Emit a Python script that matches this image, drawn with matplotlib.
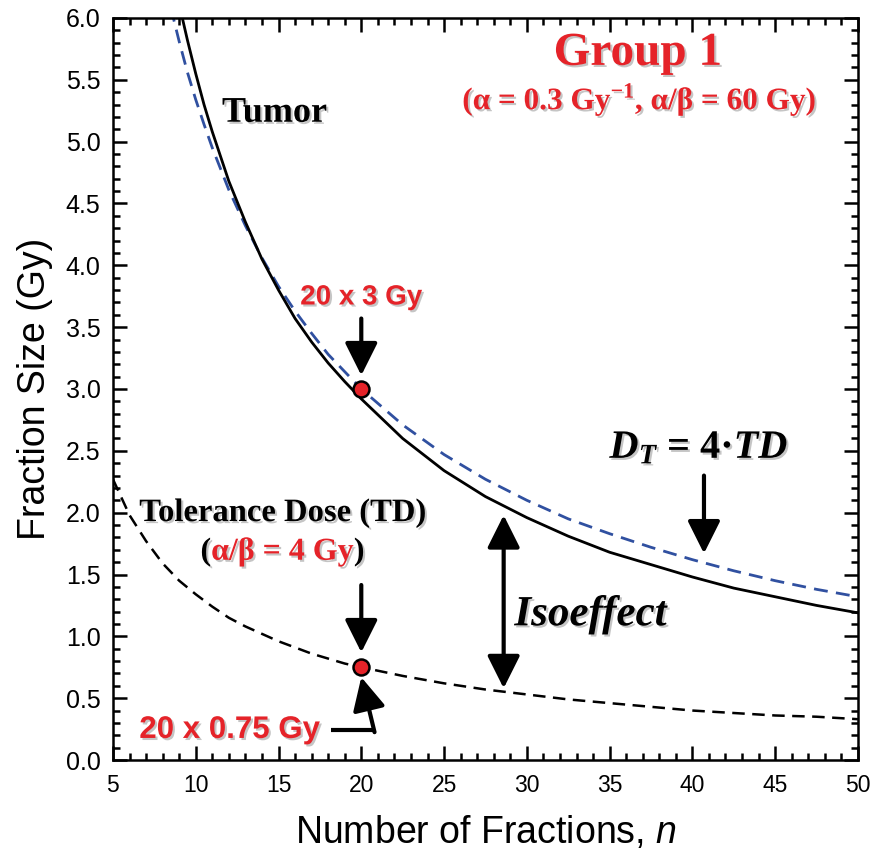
import matplotlib.pyplot as plt
import matplotlib.patheffects as pe
from matplotlib.ticker import MultipleLocator
from matplotlib.offsetbox import TextArea, HPacker, AnnotationBbox

# isoeffect curves: fraction size (Gy) vs number of fractions
n_tumor = [9.0, 9.5, 10, 10.5, 11, 12, 13, 14, 15, 16, 17, 18, 19, 20,
           22.5, 25, 27.5, 30, 32.5, 35, 37.5, 40, 42.5, 45, 47.5, 50]
d_tumor = [6.11, 5.82, 5.55, 5.30, 5.08, 4.68, 4.35, 4.05, 3.80, 3.57, 3.38, 3.21, 3.06, 2.92,
           2.60, 2.34, 2.13, 1.96, 1.81, 1.68, 1.58, 1.48, 1.39, 1.32, 1.25, 1.19]

n_dt = [8.5, 9, 9.5, 10, 10.5, 11, 12, 13, 14, 15, 16, 17, 18, 19, 20,
        22.5, 25, 27.5, 30, 32.5, 35, 37.5, 40, 42.5, 45, 47.5, 50]
d_dt = [6.08, 5.81, 5.56, 5.34, 5.14, 4.95, 4.61, 4.32, 4.06, 3.83, 3.63, 3.45, 3.28, 3.14, 3.00,
        2.71, 2.47, 2.27, 2.10, 1.95, 1.83, 1.72, 1.62, 1.53, 1.45, 1.38, 1.32]

n_td = [5, 6, 7, 8, 9, 10, 11, 12, 13, 14, 15, 16, 17, 18, 19, 20,
        22.5, 25, 27.5, 30, 32.5, 35, 37.5, 40, 42.5, 45, 47.5, 50]
d_td = [2.27, 1.98, 1.77, 1.59, 1.45, 1.34, 1.24, 1.15, 1.08, 1.02, 0.96, 0.91, 0.86, 0.82, 0.78, 0.75,
        0.68, 0.62, 0.57, 0.53, 0.49, 0.46, 0.43, 0.40, 0.38, 0.36, 0.35, 0.33]

# highlighted schedules: 20 x 3 Gy and 20 x 0.75 Gy
dot_n = [20, 20]
dot_d = [3.0, 0.75]

RED = '#e52329'
BLUE = '#3050a0'

plt.rcParams['font.family'] = ['Liberation Sans', 'DejaVu Sans']
plt.rcParams['mathtext.fontset'] = 'custom'
plt.rcParams['mathtext.rm'] = 'Liberation Serif:bold'
plt.rcParams['mathtext.it'] = 'Liberation Sans:italic'
plt.rcParams['mathtext.bf'] = 'Liberation Serif:italic:bold'

shadow = [pe.withSimplePatchShadow(offset=(1.5, -1.5), shadow_rgbFace='0.5', alpha=0.45)]
serif = ['Liberation Serif', 'DejaVu Serif']

fig = plt.figure(figsize=(8.71, 8.61), dpi=100)
ax = fig.add_axes([0.1297, 0.1173, 0.8553, 0.8618])

ax.plot(n_dt, d_dt, color=BLUE, lw=2.0, ls=(0, (5, 3)))
ax.plot(n_tumor, d_tumor, color='black', lw=2.0)
ax.plot(n_td, d_td, color='black', lw=1.8, ls=(0, (5, 3)))
ax.plot(dot_n, dot_d, 'o', ms=11.5, mfc=RED, mec='black', mew=1.8, zorder=5)

ax.set_xlim(5, 50)
ax.set_ylim(0, 6)
ax.xaxis.set_major_locator(MultipleLocator(5))
ax.xaxis.set_minor_locator(MultipleLocator(1))
ax.yaxis.set_major_locator(MultipleLocator(0.5))
ax.yaxis.set_minor_locator(MultipleLocator(0.1))
ax.yaxis.set_major_formatter(lambda v, p: f'{v:.1f}')
ax.tick_params(which='both', direction='in', top=True, right=True, width=1.8)
ax.tick_params(which='major', length=10)
ax.tick_params(which='minor', length=5)
ax.tick_params(axis='x', pad=10, labelsize=16.5)
ax.tick_params(axis='y', pad=9, labelsize=18)
for s in ax.spines.values():
    s.set_linewidth(1.8)

ax.set_xlabel('Number of Fractions, $n$', fontsize=27, labelpad=12)
ax.set_ylabel('Fraction Size (Gy)', fontsize=27, labelpad=9)

# arrows
arrow = dict(arrowstyle='-|>,head_length=0.8,head_width=0.4', lw=3, color='black',
             mutation_scale=25, shrinkA=0, shrinkB=0)
ax.annotate('', xy=(20, 3.11), xytext=(20, 3.57), arrowprops=arrow)
ax.annotate('', xy=(20, 0.87), xytext=(20, 1.415), arrowprops=arrow)
ax.annotate('', xy=(40.7, 1.67), xytext=(40.7, 2.30), arrowprops=arrow)
ax.annotate('', xy=(28.6, 1.98), xytext=(28.6, 0.58),
            arrowprops=dict(arrow, arrowstyle='<|-|>,head_length=0.8,head_width=0.4'))
ax.plot([18.2, 20.8], [0.243, 0.243], color='black', lw=3, solid_capstyle='butt')
ax.annotate('', xy=(20.0, 0.67), xytext=(20.8, 0.225), arrowprops=arrow)

# labels
ax.text(14.76, 5.23, 'Tumor', family=serif, weight='bold', fontsize=26,
        ha='center', va='center', path_effects=shadow)
ax.text(36.7, 5.71, 'Group 1', family=serif, weight='bold', fontsize=34, color=RED,
        ha='center', va='center', path_effects=shadow)
ax.text(36.8, 5.34, '(α = 0.3 Gy$^{-1}$, α/β = 60 Gy)', family=serif, weight='bold',
        fontsize=22.5, color=RED, ha='center', va='center', path_effects=shadow)
ax.text(20, 3.74, '20 x 3 Gy', weight='bold', fontsize=20, color=RED,
        ha='center', va='center', path_effects=shadow)
ax.text(12.05, 0.243, '20 x 0.75 Gy', weight='bold', fontsize=22.5, color=RED,
        ha='center', va='center', path_effects=shadow)
ax.text(15.24, 2.0, 'Tolerance Dose (TD)', family=serif, weight='bold', fontsize=23.5,
        ha='center', va='center', path_effects=shadow)
ax.text(33.85, 1.17, 'Isoeffect', family=serif, weight='bold', style='italic', fontsize=31,
        ha='center', va='center', path_effects=shadow)
ax.text(40.4, 2.52, r'$\mathbf{D_T}$ = 4·$\mathbf{TD}$', family=serif, weight='bold',
        fontsize=29, ha='center', va='center', path_effects=shadow)

# "(α/β = 4 Gy)" with black parentheses and red body
tp = dict(family=serif, weight='bold', fontsize=23, path_effects=shadow)
parts = [TextArea('(', textprops=dict(tp, color='black')),
         TextArea('α/β = 4 Gy', textprops=dict(tp, color=RED)),
         TextArea(')', textprops=dict(tp, color='black'))]
box = HPacker(children=parts, align='baseline', pad=0, sep=0)
ax.add_artist(AnnotationBbox(box, (15.24, 1.68), xycoords='data', frameon=False,
                             box_alignment=(0.5, 0.5)))

fig.savefig('out.png', dpi=100)
